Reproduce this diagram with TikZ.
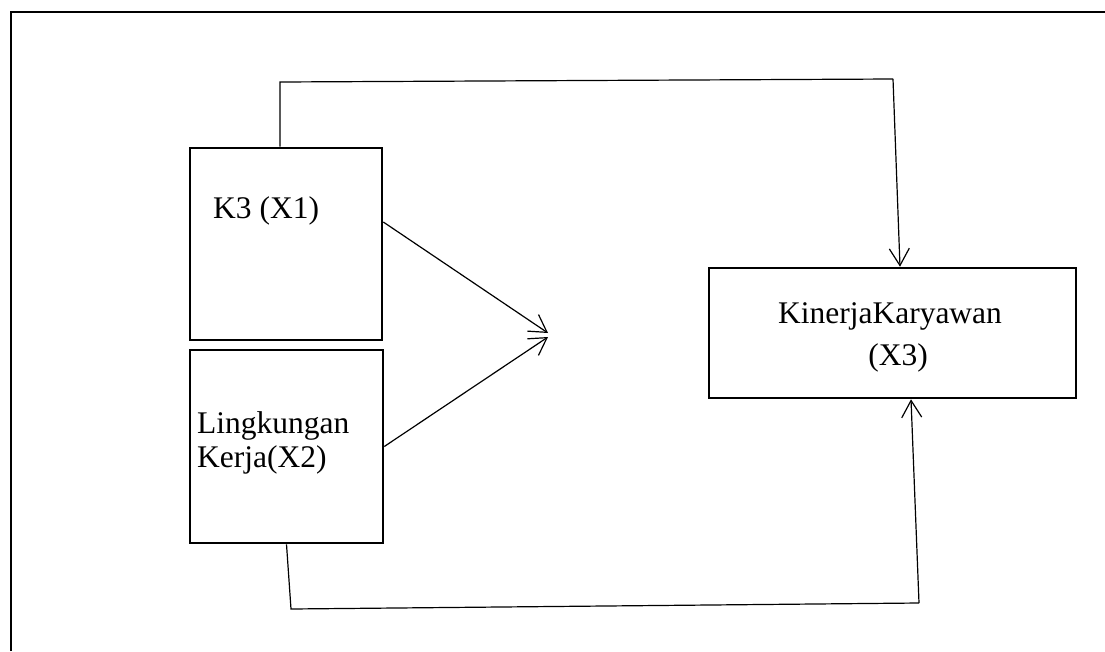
\documentclass[tikz,border=0pt]{standalone}
\usepackage{fontspec}
\setmainfont{Liberation Serif}
\usetikzlibrary{arrows.meta}

\begin{document}
\begin{tikzpicture}[
    x=1pt, y=-1pt,
    box/.style={rectangle, draw=black, line width=2.6pt, inner sep=0pt},
    arr/.style={line width=1.2pt, black, -{Straight Barb[length=17pt,width=20pt,line width=1.2pt]}},
    con/.style={line width=1.2pt, black},
    lab/.style={font=\fontsize{31.5}{34}\selectfont, inner sep=0pt},
  ]
  \useasboundingbox (0,0) rectangle (1105,651);
  \draw[line width=2.6pt] (11,651) -- (11,12) -- (1105,12);

  \node[box, minimum width=192pt, minimum height=192pt] (k3) at (286,244) {};
  \node[box, minimum width=193pt, minimum height=193pt] (lk) at (286.5,446.5) {};
  \node[box, minimum width=367pt, minimum height=130pt] (kk) at (892.5,333) {};

  \node[lab, anchor=base west] (k3lab) at (213,218) {K3 (X1)};
  \node[lab, anchor=base west] (lklab) at (197,433) {Lingkungan};
  \node[lab, anchor=base west] (lklabb) at (197,467) {Kerja(X2)};
  \node[lab, anchor=base] (kklab) at (890,323) {KinerjaKaryawan};
  \node[lab, anchor=base] (kklabb) at (898,365) {(X3)};

  % path over the top
  \coordinate (ta) at (280,82);
  \coordinate (tb) at (893,79);
  \draw[con] ([xshift=-6pt]k3.north) -- (ta) -- (tb);
  \draw[arr] (tb) -- ([xshift=7.5pt]kk.north);

  % path along the bottom
  \coordinate (ba) at (291,609);
  \coordinate (bb) at (919,603);
  \draw[con] (lk.south) -- (ba) -- (bb);
  \draw[arr] (bb) -- ([xshift=18.5pt]kk.south);

  % joint arrows
  \coordinate (mid) at (548,335);
  \draw[arr] ([yshift=22pt]k3.east) -- ([yshift=2pt]mid);
  \draw[arr] (lk.east) -- ([yshift=-2pt]mid);
\end{tikzpicture}
\end{document}
